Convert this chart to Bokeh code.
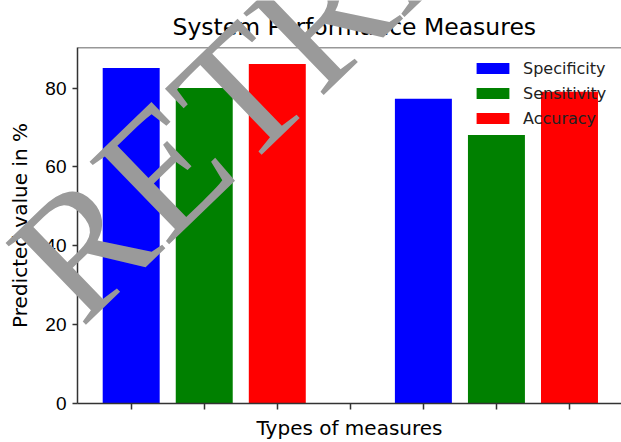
from bokeh.plotting import figure
from bokeh.models import Range1d, FixedTicker, Label, Span, Legend, LegendItem, GridBox
from bokeh.embed import file_html
from bokeh.resources import INLINE

# ---- data ----
measures = ["Specificity", "Sensitivity", "Accuracy"]
bar_colors = ["blue", "green", "red"]
specificity_x = [1, 5]
specificity = [85.1, 77.3]
sensitivity_x = [2, 6]
sensitivity = [80.0, 68.1]
accuracy_x = [3, 7]
accuracy = [86.1, 79.1]
x_ticks = [1, 2, 3, 4, 5, 6, 7]
y_ticks = [0, 20, 40, 60, 80]
title_text = "System Performance Measures"
x_label = "Types of measures"
y_label = "Predicted value in %"
watermark_text = "RETRACTED"

AX = "#333333"
Y_END = 90.3
W, H = 621, 442

p = figure(width=W, height=H, output_backend="svg", toolbar_location=None,
           x_range=Range1d(0.265, 7.712), y_range=Range1d(0, Y_END),
           min_border_left=77, min_border_right=0, min_border_top=47, min_border_bottom=39)
p.outline_line_color = None
p.grid.visible = False
p.background_fill_color = "white"
p.border_fill_color = "white"

items = []
for name, xs, ys, c in zip(measures, [specificity_x, sensitivity_x, accuracy_x],
                           [specificity, sensitivity, accuracy], bar_colors):
    r = p.vbar(x=xs, top=ys, bottom=0, width=0.78, fill_color=c, line_color=None)
    items.append(LegendItem(label=name, renderers=[r]))

legend = Legend(items=items, location=(395, 275), padding=0, margin=0, spacing=5,
                glyph_width=41, glyph_height=14, label_height=20, label_standoff=10,
                label_text_font="DejaVu Sans", label_text_font_size="16px",
                label_text_color="#222222",
                background_fill_alpha=0, border_line_color=None)
p.add_layout(legend)

# top spine
p.add_layout(Span(location=Y_END, dimension="width", line_color=AX, line_width=1.5))

p.title.text = title_text
p.title.text_font = "DejaVu Sans"
p.title.text_font_size = "23.5px"
p.title.text_font_style = "normal"
p.title.text_color = "black"
p.title.align = "left"
p.title.offset = 95
p.title.standoff = 14

ya = p.yaxis[0]
ya.ticker = FixedTicker(ticks=y_ticks)
ya.major_label_text_font = "Liberation Sans"
ya.major_label_text_font_size = "19px"
ya.major_label_text_color = "black"
ya.major_tick_out = 5
ya.major_tick_in = 0
ya.minor_tick_line_color = None
ya.axis_line_color = AX
ya.axis_line_width = 1.5
ya.major_tick_line_color = AX
ya.major_tick_line_width = 1.5
ya.major_label_standoff = 6
ya.axis_label = y_label
ya.axis_label_text_font = "DejaVu Sans"
ya.axis_label_text_font_size = "20px"
ya.axis_label_text_font_style = "normal"
ya.axis_label_text_color = "black"
ya.axis_label_standoff = 10

xa = p.xaxis[0]
xa.ticker = FixedTicker(ticks=x_ticks)
xa.major_label_overrides = {t: "" for t in x_ticks}
xa.major_label_text_font_size = "1px"
xa.major_label_standoff = 0
xa.major_tick_out = 6
xa.major_tick_in = 0
xa.minor_tick_line_color = None
xa.axis_line_color = AX
xa.axis_line_width = 1.5
xa.major_tick_line_color = AX
xa.major_tick_line_width = 1.5
xa.axis_label = x_label
xa.axis_label_text_font = "DejaVu Sans"
xa.axis_label_text_font_size = "20px"
xa.axis_label_text_font_style = "normal"
xa.axis_label_text_color = "black"
xa.axis_label_standoff = 6

# transparent overlay figure holding the diagonal watermark (not clipped by the chart frame)
wm_fig = figure(width=W, height=H, output_backend="svg", toolbar_location=None,
                title_location=None, x_axis_location=None, y_axis_location=None,
                x_range=Range1d(0, 1), y_range=Range1d(0, 1),
                min_border=0, min_border_left=0, min_border_right=0,
                min_border_top=0, min_border_bottom=0)
wm_fig.grid.visible = False
wm_fig.outline_line_color = None
wm_fig.background_fill_color = None
wm_fig.border_fill_color = None
for fig in (p, wm_fig):
    if "frame_align" in fig.properties():
        fig.frame_align = False
wm = Label(x=40, y=156, x_units="screen", y_units="screen", angle=0.768,
           text=watermark_text, text_font="Liberation Serif", text_font_size="175px",
           text_color="#9a9a9a", text_baseline="alphabetic")
wm_fig.add_layout(wm)

layout = GridBox(children=[(p, 0, 0), (wm_fig, 0, 0)], spacing=0)

open("out.html", "w").write(file_html(layout, INLINE))
